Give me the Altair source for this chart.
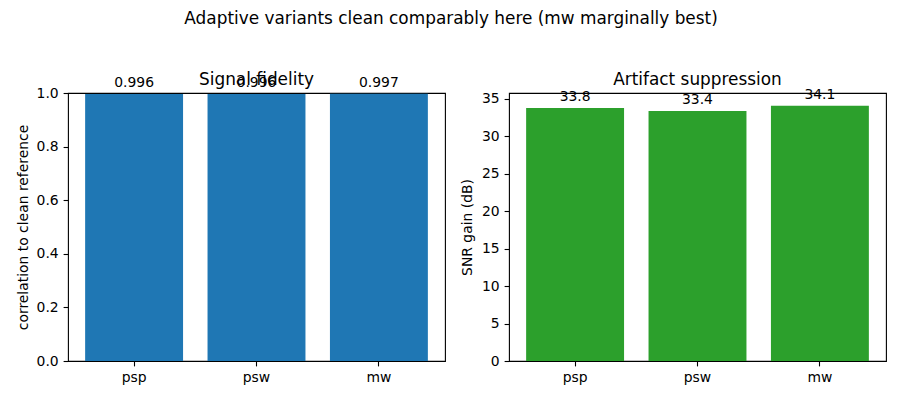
import altair as alt
import pandas as pd

methods = ["psp", "psw", "mw"]
fidelity = [0.996, 0.996, 0.997]
fidelity_labels = ["0.996", "0.996", "0.997"]
snr_gain = [33.8, 33.4, 34.1]
snr_labels = ["33.8", "33.4", "34.1"]
fidelity_ticks = [0.0, 0.2, 0.4, 0.6, 0.8, 1.0]
snr_ticks = [0, 5, 10, 15, 20, 25, 30, 35]

FONT = "DejaVu Sans"
TICK_FS = 13.9
TITLE_FS = 16.9


def panel(values, labels, color, title, ytitle, domain, ticks, fmt, offset, tpad):
    df = pd.DataFrame({"method": methods, "value": values, "label": labels})
    base = alt.Chart(df)
    x = alt.X(
        "method:N",
        sort=methods,
        title=None,
        scale=alt.Scale(paddingInner=0.2, paddingOuter=0.14),
        axis=alt.Axis(labelAngle=0),
    )
    y = alt.Y(
        "value:Q",
        scale=alt.Scale(domain=domain, nice=False, zero=True),
        axis=alt.Axis(values=ticks, format=fmt, title=ytitle, titlePadding=tpad),
    )
    bars = base.mark_bar(color=color).encode(x=x, y=y)
    text = base.mark_text(
        baseline="bottom", dy=-4.2, fontSize=TICK_FS, font=FONT, color="black"
    ).encode(x=x, y=y, text="label:N")
    return alt.layer(bars, text).properties(
        width=377,
        height=268,
        title=alt.TitleParams(
            title,
            offset=offset,
            baseline="alphabetic",
            frame="group",
            anchor="middle",
            fontSize=TITLE_FS,
            font=FONT,
            fontWeight="normal",
            color="black",
        ),
    )


left = panel(fidelity, fidelity_labels, "#1f77b4", "Signal fidelity",
             "correlation to clean reference", [0, 1], fidelity_ticks, ".1f", -26, 6)
right = panel(snr_gain, snr_labels, "#2ca02c", "Artifact suppression",
              "SNR gain (dB)", [0, 35.8], snr_ticks, "d", -14, 7)

chart = (
    alt.hconcat(left, right, spacing=13)
    .properties(
        title=alt.TitleParams(
            "Adaptive variants clean comparably here (mw marginally best)",
            fontSize=TITLE_FS,
            font=FONT,
            fontWeight="normal",
            color="black",
            anchor="middle",
            offset=42,
        ),
        padding={"left": 7, "top": 2, "right": 5, "bottom": 5},
    )
    .configure(font=FONT)
    .configure_view(stroke="black", strokeWidth=1.1)
    .configure_axis(
        grid=False,
        domain=False,
        tickColor="black",
        tickWidth=1.1,
        tickSize=4.9,
        labelPadding=4.9,
        labelColor="black",
        labelFont=FONT,
        labelFontSize=TICK_FS,
        titleFont=FONT,
        titleFontSize=TICK_FS,
        titleFontWeight="normal",
        titleColor="black",
    )
)

chart.save("out.html", embed_options={"renderer": "svg", "actions": False})
